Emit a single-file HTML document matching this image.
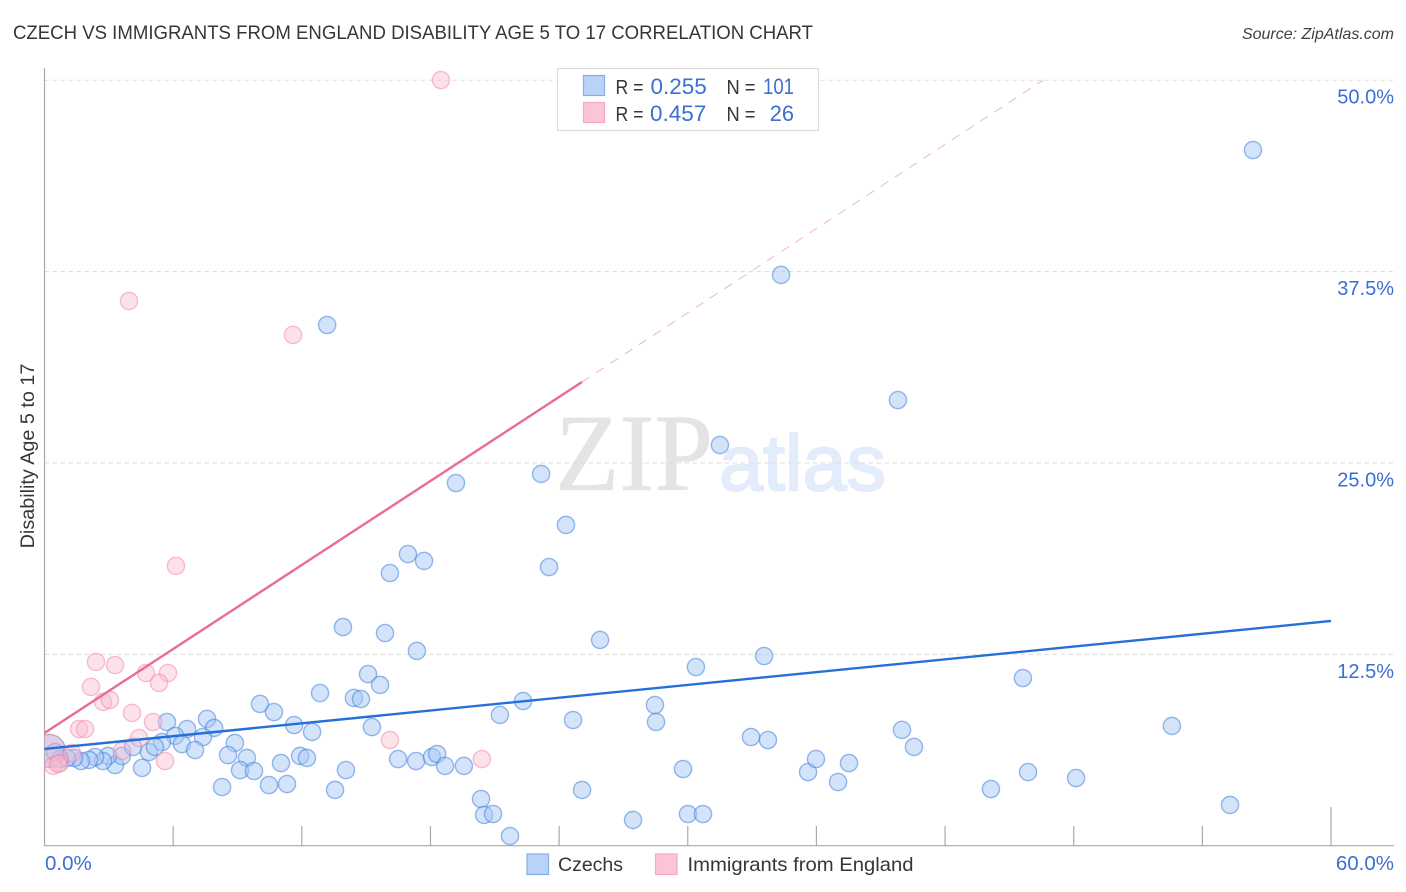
<!DOCTYPE html>
<html lang="en">
<head>
<meta charset="utf-8">
<title>Czech vs Immigrants from England Disability Age 5 to 17 Correlation Chart</title>
<style>
html,body{margin:0;padding:0;background:#fff;width:1406px;height:892px;overflow:hidden}
svg{display:block;font-family:"Liberation Sans",sans-serif}
</style>
</head>
<body>
<svg id="chart" width="1406" height="892" viewBox="0 0 1406 892" xmlns="http://www.w3.org/2000/svg">
  <defs><clipPath id="plot-clip"><rect x="44.5" y="60" width="1350" height="785.7"/></clipPath></defs>
  <text x="13" y="39" font-size="19" fill="#33363d" textLength="800" lengthAdjust="spacingAndGlyphs">CZECH VS IMMIGRANTS FROM ENGLAND DISABILITY AGE 5 TO 17 CORRELATION CHART</text>
  <text x="1394" y="39" font-size="16" font-style="italic" fill="#3c3f46" text-anchor="end">Source: ZipAtlas.com</text>
  <g>
    <text x="555" y="490" font-family="'Liberation Serif',serif" font-size="110" fill="#e4e4e4" stroke="#e4e4e4" stroke-width="0.6" textLength="158" lengthAdjust="spacingAndGlyphs">ZIP</text>
    <text x="719" y="490" font-size="79" fill="#e2ecfa" stroke="#e2ecfa" stroke-width="2" textLength="167" lengthAdjust="spacingAndGlyphs">atlas</text>
  </g>
  <g id="grid"></g>
  <g id="axes"></g>
  <g id="blue-points" clip-path="url(#plot-clip)"></g>
  <g id="pink-points" clip-path="url(#plot-clip)"></g>
  <g id="trends"></g>
  <g id="labels"></g>
  <text transform="translate(34,456) rotate(-90)" font-size="19.8" fill="#33363d" text-anchor="middle">Disability Age 5 to 17</text>

  <g>
    <rect x="557.5" y="68.5" width="261" height="62" fill="#fff" stroke="#dcdcdc" stroke-width="1.2"/>
    <rect x="583.5" y="75.5" width="21" height="20" fill="#b9d3f7" stroke="#86aee6" stroke-width="1.2"/>
    <rect x="583.5" y="102.5" width="21" height="20" fill="#fcc5d7" stroke="#f4a9c0" stroke-width="1.2"/>
    <text x="615.5" y="94" font-size="20" fill="#33363d" textLength="28" lengthAdjust="spacingAndGlyphs">R =</text>
    <text x="650.5" y="94" font-size="22.5" fill="#3b6fd4">0.255</text>
    <text x="726.5" y="94" font-size="20" fill="#33363d" textLength="29" lengthAdjust="spacingAndGlyphs">N =</text>
    <text x="763" y="94" font-size="22" fill="#3b6fd4" textLength="31" lengthAdjust="spacingAndGlyphs">101</text>
    <text x="615.5" y="121" font-size="20" fill="#33363d" textLength="28" lengthAdjust="spacingAndGlyphs">R =</text>
    <text x="650" y="121" font-size="22.5" fill="#3b6fd4">0.457</text>
    <text x="726.5" y="121" font-size="20" fill="#33363d" textLength="29" lengthAdjust="spacingAndGlyphs">N =</text>
    <text x="794" y="121" font-size="21.8" fill="#3b6fd4" text-anchor="end">26</text>
  </g>

  <g>
    <rect x="527" y="854" width="21.5" height="20.5" fill="#b9d3f7" stroke="#86aee6" stroke-width="1.2"/>
    <text x="558" y="871" font-size="19.5" fill="#33363d">Czechs</text>
    <rect x="655.5" y="854" width="21.5" height="20.5" fill="#fcc5d7" stroke="#f4a9c0" stroke-width="1.2"/>
    <text x="687.5" y="871" font-size="19.5" fill="#33363d" textLength="226" lengthAdjust="spacingAndGlyphs">Immigrants from England</text>
  </g>
</svg>
<script>
const yTickValues = [12.5, 25, 37.5, 50];
const yTickLabels = ['12.5%', '25.0%', '37.5%', '50.0%'];
const xTickValues = [6, 12, 18, 24, 30, 36, 42, 48, 54, 60];
const xEndLabels = ['0.0%', '60.0%'];

const czechsX = [56.36,34.35,13.18,39.80,31.50,23.16,19.19,24.32,16.95,17.70,16.11,23.53,13.92,15.88,25.91,17.37,30.38,33.56,15.09,15.65,45.63,12.85,14.43,14.76,10.05,10.70,28.47,22.32,21.24,24.65,28.52,7.58,5.71,11.64,12.48,15.27,39.99,52.58,7.91,6.65,6.09,7.39,5.48,6.41,8.88,7.02,32.95,33.74,40.55,8.56,9.44,11.92,12.24,16.49,17.33,18.07,18.31,18.68,19.56,11.03,14.06,9.12,9.77,29.78,35.61,35.98,37.52,45.87,48.11,37.01,10.47,11.31,8.28,13.55,25.07,44.14,20.36,55.29,20.50,20.92,30.01,30.71,27.45,21.71,4.55,3.29,3.61,4.87,5.15,4.13,2.96,2.73,2.36,2.08,1.70,1.38,1.05,0.72,0.49];
const czechsY = [45.44,37.28,34.01,29.11,26.17,24.28,23.69,20.95,19.05,18.60,17.81,18.20,14.28,13.89,13.44,12.72,11.67,12.39,11.21,10.50,10.95,9.97,9.65,9.58,9.26,8.73,9.19,9.45,8.54,8.21,8.08,8.28,8.08,7.88,7.43,7.75,7.56,7.82,7.69,7.62,7.17,7.10,6.77,6.64,6.71,6.25,7.10,6.90,6.45,5.92,5.73,5.86,5.73,5.66,5.53,5.79,5.99,5.21,5.21,5.40,4.94,4.94,4.88,5.01,4.81,5.66,5.40,4.81,4.42,4.16,3.96,4.03,3.83,3.64,3.64,3.70,3.05,2.66,2.01,2.07,2.07,2.07,1.68,0.63,5.08,5.27,5.86,6.12,6.45,6.45,5.86,5.53,5.79,5.60,5.53,5.73,5.73,5.66,6.12];
const immigrantsX = [18.49,3.94,11.59,6.13,2.40,3.29,4.73,5.76,2.17,5.34,2.73,3.05,4.08,5.06,1.61,1.89,4.41,3.61,5.62,16.11,20.40,1.28,0.72,0.40,0.63];
const immigrantsY = [50.01,35.58,33.36,18.27,12.00,11.80,11.28,11.28,10.37,10.63,9.39,9.52,8.67,8.08,7.62,7.62,7.03,6.19,5.53,6.90,5.66,6.05,5.40,5.21,5.34];
const largeCzechsPoint = [0.21, 6.19];
const largeImmigrantsPoint = [0.21, 6.19];

const czechsTrendX = [0, 60];
const czechsTrendY = [6.32, 14.68];
const immigrantsTrendX = [0, 25.07];
const immigrantsTrendY = [7.36, 30.29];
const immigrantsDashedX = [25.07, 46.57];
const immigrantsDashedY = [30.29, 50];

const SVG_NS = 'http://www.w3.org/2000/svg';
const xScale = function (v) { return 44.5 + v * 21.442; };
const yScale = function (v) { return 845.7 - v * 15.31; };

function make(tag, parentId, attrs, text) {
  const el = document.createElementNS(SVG_NS, tag);
  for (const k in attrs) el.setAttribute(k, attrs[k]);
  if (text !== undefined) el.textContent = text;
  document.getElementById(parentId).appendChild(el);
  return el;
}

yTickValues.forEach(function (v, i) {
  const line = make('line', 'grid', {x1: 44.5, x2: 1394, y1: yScale(v), y2: yScale(v), stroke: '#dddddd', 'stroke-width': 1, 'stroke-dasharray': '4.5 3.5'});
  
  
  const label = make('text', 'labels', {x: 1394, y: yScale(v) + 23.5, 'font-size': 20, fill: '#3b6fd4', 'text-anchor': 'end'}, yTickLabels[i]);
  
  
});

const yAxis = make('line', 'axes', {x1: 44.5, x2: 44.5, y1: 68, y2: 846, stroke: '#aaaaaa', 'stroke-width': 1.2});


const xAxis = make('line', 'axes', {x1: 44, x2: 1394, y1: 845.7, y2: 845.7, stroke: '#aaaaaa', 'stroke-width': 1.2});



xTickValues.forEach(function (v, i) {
  const isLast = i === xTickValues.length - 1;
  const tick = make('line', 'axes', {x1: xScale(v), x2: xScale(v), y1: isLast ? 807 : 826, y2: 845.7, stroke: '#aaaaaa', 'stroke-width': 1.2});
  
  
});

const xLabelLeft = make('text', 'labels', {x: 45, y: 870, 'font-size': 20.5, fill: '#3b6fd4'}, xEndLabels[0]);


const xLabelRight = make('text', 'labels', {x: 1394, y: 870, 'font-size': 20.5, fill: '#3b6fd4', 'text-anchor': 'end'}, xEndLabels[1]);



const bigBlue = make('circle', 'blue-points', {cx: xScale(largeCzechsPoint[0]), cy: yScale(largeCzechsPoint[1]), r: 16.5, fill: 'rgba(150,190,240,0.45)', stroke: 'rgba(70,130,215,0.5)', 'stroke-width': 1.4});



czechsX.forEach(function (x, i) {
  const c = make('circle', 'blue-points', {cx: xScale(x), cy: yScale(czechsY[i]), r: 8.6, fill: 'rgba(165,200,245,0.5)', stroke: 'rgba(60,125,215,0.52)', 'stroke-width': 1.4});
  
  
});

const bigPink = make('circle', 'pink-points', {cx: xScale(largeImmigrantsPoint[0]), cy: yScale(largeImmigrantsPoint[1]), r: 16.5, fill: 'rgba(250,180,205,0.4)', stroke: 'rgba(240,130,170,0.4)', 'stroke-width': 1.4});



immigrantsX.forEach(function (x, i) {
  const c = make('circle', 'pink-points', {cx: xScale(x), cy: yScale(immigrantsY[i]), r: 8.6, fill: 'rgba(250,185,205,0.42)', stroke: 'rgba(240,135,170,0.52)', 'stroke-width': 1.4});
  
  
});

const dashed = make('line', 'trends', {x1: xScale(immigrantsDashedX[0]), y1: yScale(immigrantsDashedY[0]), x2: xScale(immigrantsDashedX[1]), y2: yScale(immigrantsDashedY[1]), stroke: '#f0b4c9', 'stroke-width': 1, 'stroke-dasharray': '9 8'});


const pinkTrend = make('line', 'trends', {x1: xScale(immigrantsTrendX[0]), y1: yScale(immigrantsTrendY[0]), x2: xScale(immigrantsTrendX[1]), y2: yScale(immigrantsTrendY[1]), stroke: '#e96b97', 'stroke-width': 2.4});


const blueTrend = make('line', 'trends', {x1: xScale(czechsTrendX[0]), y1: yScale(czechsTrendY[0]), x2: xScale(czechsTrendX[1]), y2: yScale(czechsTrendY[1]), stroke: '#2470d8', 'stroke-width': 2.4});


</script>
</body>
</html>
